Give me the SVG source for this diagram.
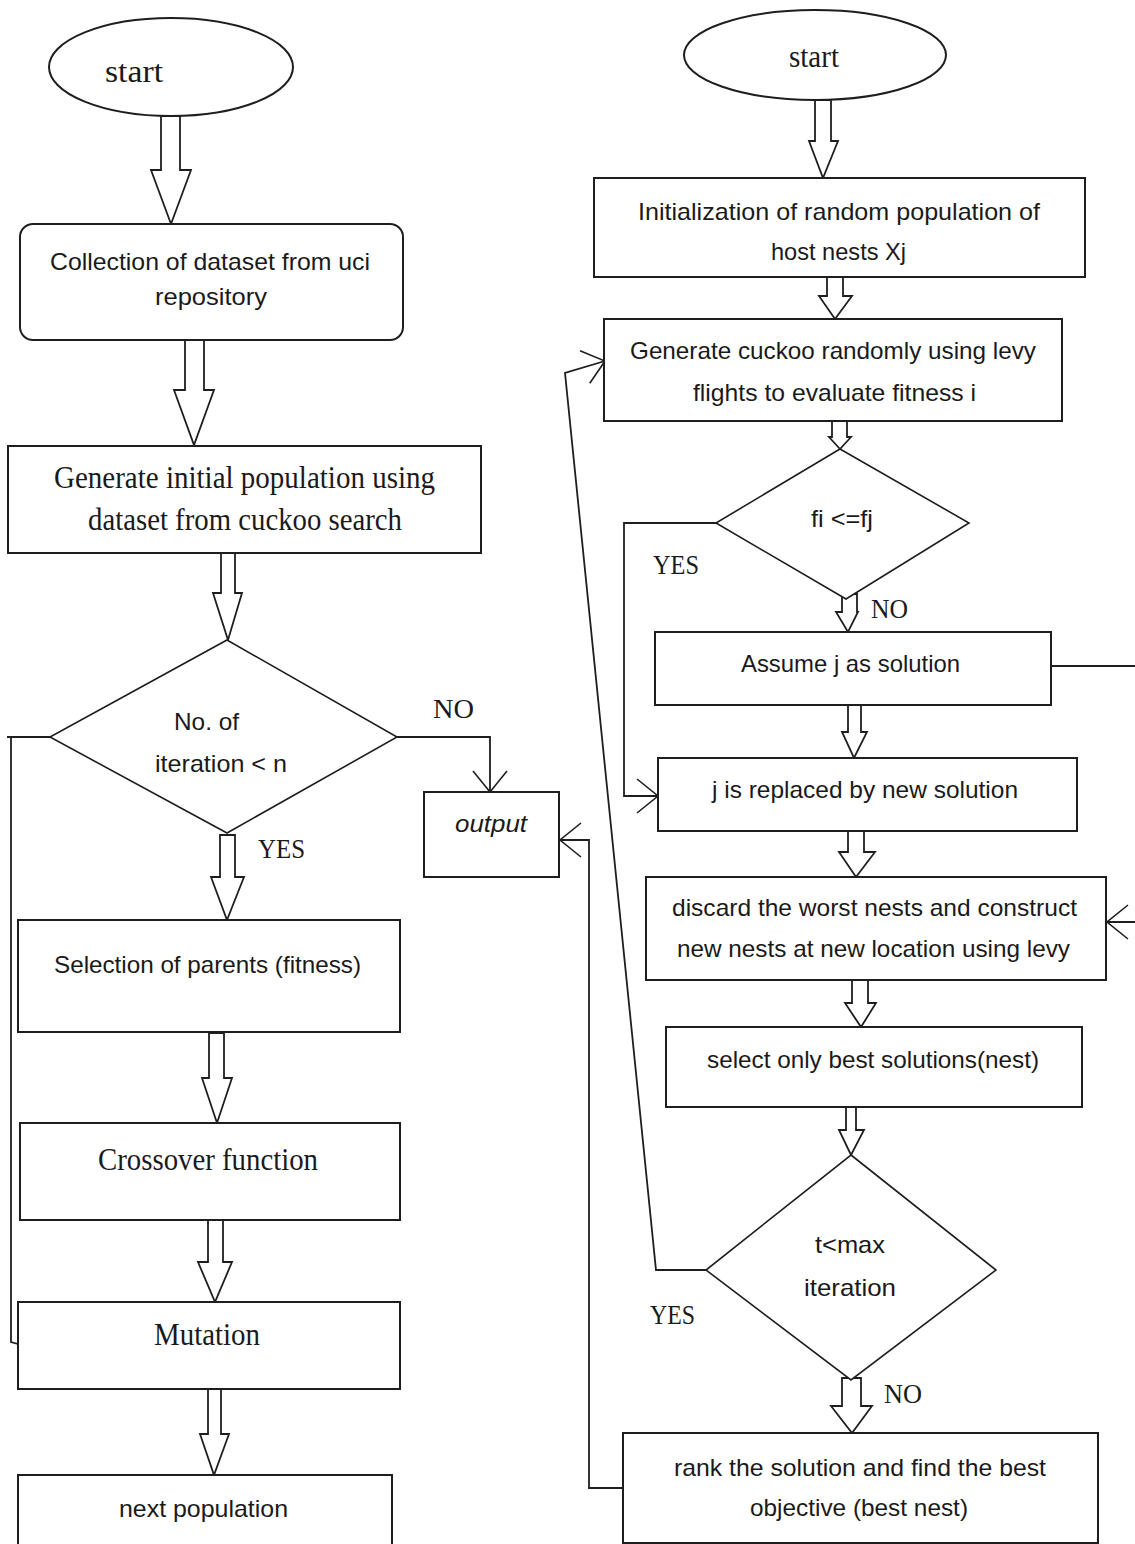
<svg xmlns="http://www.w3.org/2000/svg" width="1135" height="1544" viewBox="0 0 1135 1544">
<style>
.bg{fill:#ffffff}
.node{fill:#ffffff;stroke:#1e1e1e;stroke-width:2}
.dia{fill:#ffffff;stroke:#1e1e1e;stroke-width:1.6}
.blk{fill:#ffffff;stroke:#1e1e1e;stroke-width:1.8;stroke-linejoin:miter}
.ln{fill:none;stroke:#1e1e1e;stroke-width:1.8}
.sans{font-family:"Liberation Sans",Arial,sans-serif;font-size:24px;fill:#1a1a1a}
.ital{font-family:"Liberation Sans",Arial,sans-serif;font-size:24px;font-style:italic;fill:#1a1a1a}
.serif{font-family:"Liberation Serif","Times New Roman",serif;font-size:32px;fill:#1a1a1a}
.lbl{font-family:"Liberation Serif","Times New Roman",serif;font-size:28px;fill:#1a1a1a}
</style>
<defs>
<marker id="open" markerUnits="userSpaceOnUse" viewBox="-25 -20 30 40" markerWidth="30" markerHeight="40" refX="0" refY="0" orient="auto" overflow="visible">
<path d="M-21,-17 L0,0 L-21,17" fill="none" stroke="#1e1e1e" stroke-width="1.6"/>
</marker>
</defs>
<rect class="bg" x="0" y="0" width="1135" height="1544"/>

<g id="connectors">
<polyline class="ln" points="7,737 50,737"/>
<polyline class="ln" points="11,737 11,1342 18,1344"/>
<polyline class="ln" points="396,737 490,737 490,792" marker-end="url(#open)"/>
<polyline class="ln" points="623,1488 589,1488 589,840 560,840" marker-end="url(#open)"/>
<polyline class="ln" points="706,1270 656,1270 565,373 605,361" marker-end="url(#open)"/>
<polyline class="ln" points="716,523 624,523 624,796 658,796" marker-end="url(#open)"/>
<polyline class="ln" points="1051,666 1145,666 1145,922 1107,922" marker-end="url(#open)"/>
<path class="blk" d="M161,116 V170 H151 L171,224 L191,170 H180 V116 Z"/>
<path class="blk" d="M185,340 V390 H174 L194,445 L214,390 H204 V340 Z"/>
<path class="blk" d="M221,553 V593 H213 L228,640 L242,593 H235 V553 Z"/>
<path class="blk" d="M220,835 V877 H211 L227,920 L244,877 H235 V835 Z"/>
<path class="blk" d="M209,1033 V1078 H202 L217,1123 L232,1078 H224 V1033 Z"/>
<path class="blk" d="M208,1220 V1262 H198 L215,1302 L232,1262 H223 V1220 Z"/>
<path class="blk" d="M208,1389 V1434 H200 L214,1475 L229,1434 H221 V1389 Z"/>
<path class="blk" d="M815,100 V141 H809 L823,178 L838,141 H831 V100 Z"/>
<path class="blk" d="M827,277 V296 H819 L835,319 L852,296 H843 V277 Z"/>
<path class="blk" d="M832,421 V437 H829 L840,449 L851,437 H847 V421 Z"/>
<path class="blk" d="M842,594 V612 H836 L848,632 L858,612 H857 V594 Z"/>
<path class="blk" d="M848,705 V732 H842 L854,758 L867,732 H861 V705 Z"/>
<path class="blk" d="M848,831 V852 H839 L856,877 L875,852 H864 V831 Z"/>
<path class="blk" d="M852,980 V1003 H845 L861,1027 L876,1003 H868 V980 Z"/>
<path class="blk" d="M846,1107 V1130 H839 L851,1155 L864,1130 H856 V1107 Z"/>
<path class="blk" d="M842,1378 V1406 H831 L852,1433 L872,1406 H861 V1378 Z"/>
</g>

<g id="start-left">
<ellipse class="node" cx="171" cy="67" rx="122" ry="49"/>
<text class="serif" x="105" y="82" font-size="36" textLength="58" lengthAdjust="spacingAndGlyphs">start</text>
</g>
<g id="collection">
<rect class="node" x="20" y="224" width="383" height="116" rx="13"/>
<text class="sans" x="50" y="270" textLength="320" lengthAdjust="spacingAndGlyphs">Collection of dataset from uci</text>
<text class="sans" x="155" y="305" textLength="112" lengthAdjust="spacingAndGlyphs">repository</text>
</g>
<g id="generate-initial">
<rect class="node" x="8" y="446" width="473" height="107"/>
<text class="serif" x="54" y="488" textLength="381" lengthAdjust="spacingAndGlyphs">Generate initial population using</text>
<text class="serif" x="88" y="530" textLength="314" lengthAdjust="spacingAndGlyphs">dataset from cuckoo search</text>
</g>
<g id="iteration-check">
<polygon class="dia" points="227,640 397,737 227,833 50,737"/>
<text class="sans" x="174" y="730" textLength="65" lengthAdjust="spacingAndGlyphs">No. of</text>
<text class="sans" x="155" y="772" textLength="132" lengthAdjust="spacingAndGlyphs">iteration &lt; n</text>
<text class="lbl" x="433" y="718" textLength="41" lengthAdjust="spacingAndGlyphs">NO</text>
<text class="lbl" x="258" y="858" textLength="47" lengthAdjust="spacingAndGlyphs">YES</text>
</g>
<g id="output">
<rect class="node" x="424" y="792" width="135" height="85"/>
<text class="ital" x="455" y="832" textLength="72" lengthAdjust="spacingAndGlyphs">output</text>
</g>
<g id="selection">
<rect class="node" x="18" y="920" width="382" height="112"/>
<text class="sans" x="54" y="973" textLength="307" lengthAdjust="spacingAndGlyphs">Selection of parents (fitness)</text>
</g>
<g id="crossover">
<rect class="node" x="20" y="1123" width="380" height="97"/>
<text class="serif" x="98" y="1170" textLength="220" lengthAdjust="spacingAndGlyphs">Crossover function</text>
</g>
<g id="mutation">
<rect class="node" x="18" y="1302" width="382" height="87"/>
<text class="serif" x="154" y="1345" textLength="106" lengthAdjust="spacingAndGlyphs">Mutation</text>
</g>
<g id="next-population">
<rect class="node" x="18" y="1475" width="374" height="90"/>
<text class="sans" x="119" y="1517" textLength="169" lengthAdjust="spacingAndGlyphs">next population</text>
</g>

<g id="start-right">
<ellipse class="node" cx="815" cy="55" rx="131" ry="45"/>
<text class="serif" x="789" y="67" font-size="32" textLength="50" lengthAdjust="spacingAndGlyphs">start</text>
</g>
<g id="init">
<rect class="node" x="594" y="178" width="491" height="99"/>
<text class="sans" x="638" y="220" textLength="402" lengthAdjust="spacingAndGlyphs">Initialization of random population of</text>
<text class="sans" x="771" y="260" textLength="135" lengthAdjust="spacingAndGlyphs">host nests Xj</text>
</g>
<g id="generate-cuckoo">
<rect class="node" x="604" y="319" width="458" height="102"/>
<text class="sans" x="630" y="359" textLength="406" lengthAdjust="spacingAndGlyphs">Generate cuckoo randomly using levy</text>
<text class="sans" x="693" y="401" textLength="283" lengthAdjust="spacingAndGlyphs">flights to evaluate fitness i</text>
</g>
<g id="fitness-check">
<polygon class="dia" points="840,449 969,523 846,599 716,523"/>
<text class="sans" x="811" y="527" textLength="62" lengthAdjust="spacingAndGlyphs">fi &lt;=fj</text>
<text class="lbl" x="653" y="574" textLength="46" lengthAdjust="spacingAndGlyphs">YES</text>
<text class="lbl" x="871" y="618" textLength="37" lengthAdjust="spacingAndGlyphs">NO</text>
</g>
<g id="assume">
<rect class="node" x="655" y="632" width="396" height="73"/>
<text class="sans" x="741" y="672" textLength="219" lengthAdjust="spacingAndGlyphs">Assume j as solution</text>
</g>
<g id="replaced">
<rect class="node" x="658" y="758" width="419" height="73"/>
<text class="sans" x="712" y="798" textLength="306" lengthAdjust="spacingAndGlyphs">j is replaced by new solution</text>
</g>
<g id="discard">
<rect class="node" x="646" y="877" width="460" height="103"/>
<text class="sans" x="672" y="916" textLength="405" lengthAdjust="spacingAndGlyphs">discard the worst nests and construct</text>
<text class="sans" x="677" y="957" textLength="393" lengthAdjust="spacingAndGlyphs">new nests at new location using levy</text>
</g>
<g id="select-best">
<rect class="node" x="666" y="1027" width="416" height="80"/>
<text class="sans" x="707" y="1068" textLength="332" lengthAdjust="spacingAndGlyphs">select only best solutions(nest)</text>
</g>
<g id="max-iteration-check">
<polygon class="dia" points="851,1155 996,1270 851,1380 706,1270"/>
<text class="sans" x="815" y="1253" textLength="70" lengthAdjust="spacingAndGlyphs">t&lt;max</text>
<text class="sans" x="804" y="1296" textLength="92" lengthAdjust="spacingAndGlyphs">iteration</text>
<text class="lbl" x="650" y="1324" textLength="45" lengthAdjust="spacingAndGlyphs">YES</text>
<text class="lbl" x="884" y="1403" textLength="38" lengthAdjust="spacingAndGlyphs">NO</text>
</g>
<g id="rank">
<rect class="node" x="623" y="1433" width="475" height="110"/>
<text class="sans" x="674" y="1476" textLength="372" lengthAdjust="spacingAndGlyphs">rank the solution and find the best</text>
<text class="sans" x="750" y="1516" textLength="218" lengthAdjust="spacingAndGlyphs">objective (best nest)</text>
</g>
</svg>
